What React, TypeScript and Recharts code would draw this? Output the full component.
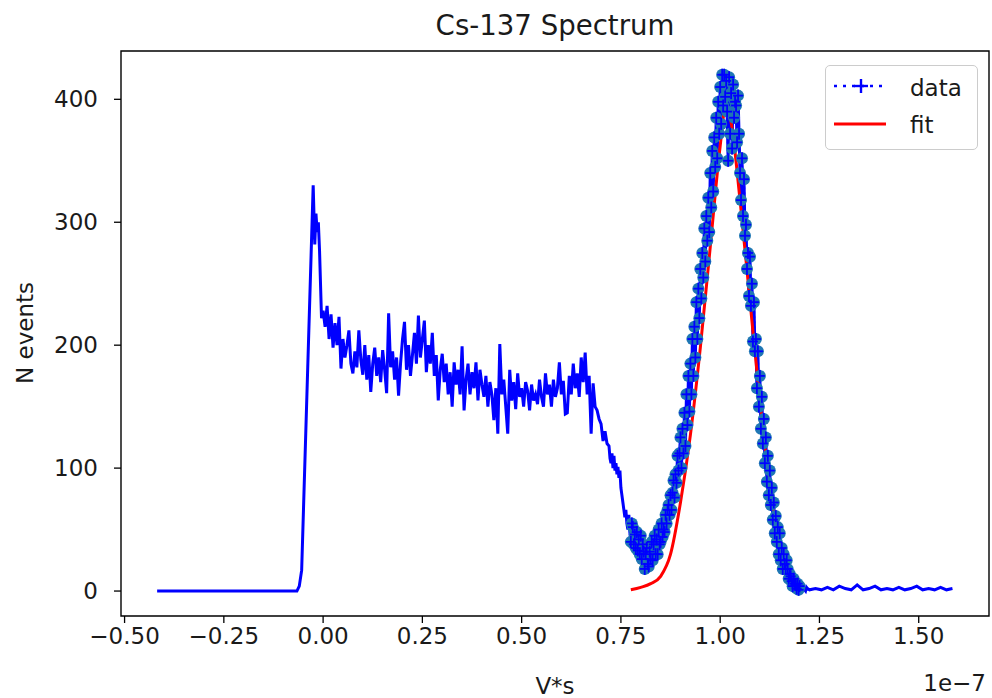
import React from "react";
import { ComposedChart, Line, Scatter, XAxis, YAxis, ReferenceArea } from "recharts";

// x values are in units of 1e-7 V*s, y values are counts per bin

// flat zero region and the backscatter edge / low energy peak
const leadX = [-0.418, -0.066, -0.06, -0.054, -0.025, -0.021, -0.018, -0.015, -0.012, -0.009, -0.004];
const leadY = [0, 0, 4, 17, 330, 282, 307, 292, 300, 277, 222];

// compton continuum, bins of 0.005 starting at 0.0
const comptonStart = 0.0;
const comptonStep = 0.005;
const comptonCounts = [
    228, 215, 232, 205, 225, 198, 218, 200, 223, 181,
    205, 190, 200, 212, 185, 177, 195, 182, 212, 188,
    176, 200, 172, 192, 162, 185, 198, 175, 190, 170,
    196, 180, 161, 226, 182, 195, 172, 190, 159, 185,
    205, 219, 180, 200, 175, 192, 210, 185, 224, 190,
    205, 220, 178, 200, 185, 210, 175, 192, 155, 180,
    193, 170, 185, 160, 178, 150, 186, 168, 180, 160,
    199, 147, 172, 185, 160, 178, 165, 186, 155, 180,
    168, 158, 175, 150, 170, 160, 139, 165, 128, 201,
    160, 172, 150, 128, 180, 155, 170, 148, 177, 158,
    165, 150, 170, 163, 147, 168, 155, 160, 152, 172,
    158, 150, 177, 160, 168, 150, 172, 158, 165, 186,
    160, 171, 144, 145, 175, 160, 185, 165, 177, 158,
    190, 170, 194, 160, 175, 128, 169, 150, 147, 140,
    136, 122, 130, 120,
];

// compton edge, valley and photopeak, bins of 0.0025 starting at 0.72
const peakStart = 0.72;
const peakStep = 0.0025;
const peakCounts = [
    118, 108, 104, 112, 100, 110, 98, 104,
    95, 101, 92, 98, 84, 78, 72, 66,
    60, 66, 55, 50, 62, 48, 40, 55,
    52, 38, 46, 35, 48, 33, 42, 30,
    45, 26, 38, 32, 18, 30, 35, 22,
    20, 32, 26, 40, 25, 38, 45, 30,
    42, 30, 50, 38, 40, 55, 44, 50,
    48, 62, 55, 66, 70, 62, 78, 66,
    80, 90, 76, 95, 88, 110, 98, 112,
    125, 100, 132, 112, 145, 118, 160, 135,
    175, 146, 185, 160, 205, 175, 215, 190,
    235, 205, 246, 222, 262, 238, 275, 255,
    295, 268, 305, 285, 320, 292, 340, 312,
    358, 325, 369, 345, 385, 352, 398, 372,
    410, 380, 420, 395, 420, 402, 415, 390,
    350, 418, 372, 405, 360, 412, 385, 398,
    395, 365, 403, 372, 340, 318, 352, 305,
    335, 289, 298, 262, 275, 240, 272, 232,
    250, 203, 235, 195, 205, 165, 195, 150,
    175, 132, 158, 120, 140, 104, 125, 89,
    110, 78, 98, 70, 84, 58, 72, 47,
    61, 40, 52, 30, 47, 25, 35, 18,
    30, 22, 18, 25, 18, 10, 14, 12,
    8, 4, 10, 6, 5, 2, 6, 1,
    4, 0, 3, 2, 2, 1, 0, 3,
    2,
];

// high energy tail, bins of 0.015 starting at 1.225
const tailStart = 1.225;
const tailStep = 0.015;
const tailCounts = [1, 2, 1, 3, 1, 4, 2, 1, 5, 1, 2, 4, 1, 2, 1, 3, 1, 2, 4, 1, 2, 1, 3, 1, 2];

// gaussian fit curve
const fitX = [0.775, 0.8, 0.825, 0.85, 0.875, 0.9, 0.925, 0.95, 0.975, 1.0, 1.0125, 1.025, 1.05, 1.075, 1.1, 1.125, 1.15, 1.175, 1.2];
const fitY = [1, 3, 6, 12, 30, 72, 127, 198, 280, 362, 392, 385, 318, 236, 155, 85, 42, 17, 6];

const fitLo = 0.775;
const fitHi = 1.2;

const xTicks = [-0.5, -0.25, 0, 0.25, 0.5, 0.75, 1.0, 1.25, 1.5];
const yTicks = [0, 100, 200, 300, 400];

const round = (v: number) => Math.round(v * 10000) / 10000;

const spectrum = [
    ...leadX.map((x, i) => ({ x, y: leadY[i] })),
    ...comptonCounts.map((y, i) => ({ x: round(comptonStart + i * comptonStep), y })),
    ...peakCounts.map((y, i) => ({ x: round(peakStart + i * peakStep), y })),
    ...tailCounts.map((y, i) => ({ x: round(tailStart + i * tailStep), y })),
];

const fitRegion = spectrum.filter(p => p.x >= fitLo - 1e-6 && p.x <= fitHi + 1e-6);
const fitCurve = fitX.map((x, i) => ({ x, y: fitY[i] }));

const FONT = "DejaVu Sans";
const TEXT = "#1a1a1a";
const FS = 23;

const fmtX = (v: number) => {
    const s = Math.abs(v).toFixed(2);
    return v < 0 ? "\u2212" + s : s;
};

const CircleMark = (props: any) => (
    <circle cx={props.cx} cy={props.cy} r={6} fill="#1f77b4" />
);

const PlusMark = (props: any) => (
    <g stroke="#0000ff" strokeWidth={1.8}>
        <line x1={props.cx - 5} x2={props.cx + 5} y1={props.cy} y2={props.cy} />
        <line x1={props.cx} x2={props.cx} y1={props.cy - 6} y2={props.cy + 6} />
    </g>
);

const textStyle: React.CSSProperties = {
    position: "absolute",
    fontFamily: FONT,
    color: TEXT,
    whiteSpace: "nowrap",
    lineHeight: 1,
};

export default function App() {
    return (
        <div style={{ position: "absolute", left: 0, top: 0, width: 992, height: 698, background: "#fff" }}>
            <ComposedChart width={992} height={698} margin={{ top: 51, right: 3, left: 0, bottom: 0 }}>
                <XAxis
                    dataKey="x"
                    type="number"
                    domain={[-0.509, 1.677]}
                    allowDataOverflow
                    ticks={xTicks}
                    tickFormatter={fmtX}
                    height={82}
                    tickSize={7}
                    tickMargin={5}
                    axisLine={false}
                    tickLine={{ stroke: "#000", strokeWidth: 1.3 }}
                    tick={{ fill: TEXT, fontSize: FS, fontFamily: FONT }}
                />
                <YAxis
                    dataKey="y"
                    type="number"
                    domain={[-20.3, 439.3]}
                    allowDataOverflow
                    ticks={yTicks}
                    width={121}
                    tickSize={7}
                    tickMargin={16}
                    axisLine={false}
                    tickLine={{ stroke: "#000", strokeWidth: 1.3 }}
                    tick={{ fill: TEXT, fontSize: FS, fontFamily: FONT }}
                />
                <ReferenceArea
                    x1={-0.509}
                    x2={1.677}
                    y1={-20.3}
                    y2={439.3}
                    fill="none"
                    fillOpacity={0}
                    stroke="#000"
                    strokeWidth={1.4}
                    ifOverflow="visible"
                />
                <Scatter
                    data={fitRegion}
                    dataKey="y"
                    shape={CircleMark}
                    isAnimationActive={false}
                />
                <Line
                    data={spectrum}
                    dataKey="y"
                    type="linear"
                    stroke="#0000ff"
                    strokeWidth={3}
                    dot={false}
                    activeDot={false}
                    isAnimationActive={false}
                />
                <Line
                    data={fitRegion}
                    dataKey="y"
                    type="linear"
                    stroke="#0000ff"
                    strokeWidth={2}
                    strokeDasharray="2 3"
                    dot={false}
                    activeDot={false}
                    isAnimationActive={false}
                />
                <Scatter
                    data={fitRegion}
                    dataKey="y"
                    shape={PlusMark}
                    isAnimationActive={false}
                />
                <Line
                    data={fitCurve}
                    dataKey="y"
                    type="monotone"
                    stroke="#ff0000"
                    strokeWidth={3}
                    dot={false}
                    activeDot={false}
                    isAnimationActive={false}
                />
            </ComposedChart>

            <div style={{ ...textStyle, left: 555, top: 12, fontSize: 27.6, transform: "translateX(-50%)" }}>
                Cs-137 Spectrum
            </div>
            <div style={{ ...textStyle, left: 555, top: 675, fontSize: FS, transform: "translateX(-50%)" }}>
                V*s
            </div>
            <div style={{ ...textStyle, right: 6, top: 672, fontSize: FS }}>
                1e{"\u2212"}7
            </div>
            <div
                style={{
                    ...textStyle,
                    left: 25,
                    top: 333,
                    fontSize: FS,
                    transform: "translate(-50%, -50%) rotate(-90deg)",
                }}
            >
                N events
            </div>

            <div
                style={{
                    position: "absolute",
                    left: 825,
                    top: 65,
                    width: 153,
                    height: 85,
                    boxSizing: "border-box",
                    border: "1.3px solid #cccccc",
                    borderRadius: 5,
                    background: "rgba(255,255,255,0.8)",
                    fontFamily: FONT,
                    color: TEXT,
                    fontSize: FS,
                }}
            >
                <svg width={64} height={85} style={{ position: "absolute", left: 0, top: 0 }}>
                    <line x1={8} x2={62} y1={20} y2={20} stroke="#0000ff" strokeWidth={2.6} strokeDasharray="3 6" />
                    <line x1={28} x2={42} y1={20} y2={20} stroke="#0000ff" strokeWidth={2.4} />
                    <line x1={35} x2={35} y1={13} y2={27} stroke="#0000ff" strokeWidth={2.4} />
                    <line x1={8} x2={60} y1={58} y2={58} stroke="#ff0000" strokeWidth={3} />
                </svg>
                <div style={{ position: "absolute", left: 84, top: 9 }}>data</div>
                <div style={{ position: "absolute", left: 84, top: 46 }}>fit</div>
            </div>
        </div>
    );
}
